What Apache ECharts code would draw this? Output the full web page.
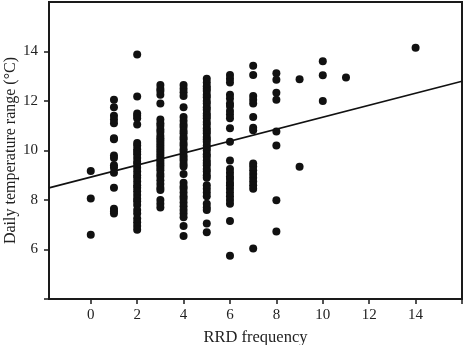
<!DOCTYPE html>
<html>
<head>
<meta charset="utf-8">
<script src="https://cdn.jsdelivr.net/npm/echarts@6/dist/echarts.min.js"></script>
<style>
  html, body { margin: 0; padding: 0; background: #fff; }
  #chart { width: 465px; height: 345px; }
</style>
</head>
<body>
<div id="chart"></div>
<script>
// RRD frequency -> daily temperature range values, read column by column
var col0 = [9.17, 8.06, 6.6];
var col1 = [12.05, 11.75, 11.4, 11.25, 11.1, 10.5, 10.45, 9.8, 9.7, 9.4, 9.3, 9.1, 8.5, 7.65, 7.55, 7.45];
var col2 = [13.88, 12.18, 11.5, 11.4, 11.3, 11.05, 10.3, 10.2, 10.05, 9.95, 9.85, 9.7, 9.55, 9.45, 9.3, 9.15,
  9.0, 8.9, 8.75, 8.6, 8.5, 8.35, 8.2, 8.05, 7.95, 7.8, 7.6, 7.45, 7.25, 7.1, 6.95, 6.8];
var col3 = [12.65, 12.5, 12.4, 12.25, 11.9, 11.25, 11.1, 11.0, 10.85, 10.75, 10.6, 10.5, 10.4, 10.3, 10.2, 10.1,
  10.0, 9.9, 9.8, 9.7, 9.6, 9.5, 9.4, 9.3, 9.2, 9.05, 8.95, 8.8, 8.65, 8.5, 8.4, 8.0, 7.85, 7.7];
var col4 = [12.65, 12.5, 12.35, 12.2, 11.75, 11.35, 11.2, 11.05, 10.95, 10.8, 10.7, 10.55, 10.45, 10.3, 10.2, 10.05,
  9.95, 9.8, 9.7, 9.6, 9.45, 9.35, 9.05, 8.7, 8.55, 8.45, 8.3, 8.15, 8.05, 7.9, 7.75, 7.6, 7.45, 7.3, 6.95, 6.55];
var col5 = [12.9, 12.75, 12.6, 12.5, 12.4, 12.25, 12.15, 12.0, 11.9, 11.75, 11.65, 11.5, 11.4, 11.3, 11.15, 11.05,
  10.9, 10.8, 10.7, 10.55, 10.45, 10.35, 10.2, 10.1, 10.0, 9.85, 9.75, 9.6, 9.5, 9.4, 9.25, 9.15, 9.0, 8.9,
  8.6, 8.45, 8.3, 8.15, 7.85, 7.7, 7.6, 7.05, 6.7];
var col6 = [13.05, 12.9, 12.75, 12.25, 12.1, 11.9, 11.8, 11.6, 11.45, 11.3, 10.9, 10.35, 9.6,
  9.25, 9.1, 8.95, 8.85, 8.7, 8.6, 8.45, 8.3, 8.15, 8.0, 7.85, 7.15, 5.75];
var col7 = [13.42, 13.05, 12.2, 12.05, 11.9, 11.35, 10.92, 10.82, 9.47, 9.35, 9.2, 9.05, 8.9, 8.75, 8.6, 8.45, 6.04];
var col8 = [13.12, 12.86, 12.33, 12.05, 10.77, 10.2, 7.99, 6.73];
var col9 = [12.88, 9.34];
var col10 = [13.61, 13.04, 12.0];
var col11 = [12.95];
var col14 = [14.15];

var freqs = [0, 1, 2, 3, 4, 5, 6, 7, 8, 9, 10, 11, 14];
var columns = [col0, col1, col2, col3, col4, col5, col6, col7, col8, col9, col10, col11, col14];

// fitted line end points
var fitX = [-1.8, 16];
var fitY = [8.49, 12.8];

var xTicks = [0, 2, 4, 6, 8, 10, 12, 14];
var yTicks = [6, 8, 10, 12, 14];

var points = [];
for (var i = 0; i < freqs.length; i++) {
  columns[i].forEach(function (v) { points.push([freqs[i], v]); });
}

var font = '"Liberation Serif", "DejaVu Serif", serif';
var chart = echarts.init(document.getElementById('chart'));
chart.setOption({
  animation: false,
  grid: {
    left: 49, right: 3, top: 2, bottom: 46,
    outerBoundsMode: 'none',
    show: true, borderColor: '#1a1a1a', borderWidth: 2, backgroundColor: '#fff'
  },
  xAxis: {
    type: 'value',
    min: -1.8,
    max: 16,
    name: 'RRD frequency',
    nameLocation: 'middle',
    nameGap: 30,
    nameMoveOverlap: false,
    nameTextStyle: { fontFamily: font, fontSize: 16.5, color: '#222' },
    axisLine: { show: true, onZero: false, lineStyle: { color: '#1a1a1a', width: 2 } },
    axisTick: { show: true, length: 5, customValues: xTicks.concat([16]), lineStyle: { color: '#1a1a1a', width: 1.5 } },
    axisLabel: { customValues: xTicks, fontFamily: font, fontSize: 15, color: '#222', margin: 9 },
    splitLine: { show: false }
  },
  yAxis: {
    type: 'value',
    min: 4,
    max: 16,
    name: 'Daily temperature range (°C)',
    nameLocation: 'middle',
    nameGap: 30,
    nameMoveOverlap: false,
    nameTextStyle: { fontFamily: font, fontSize: 16, color: '#222' },
    axisLine: { show: true, onZero: false, lineStyle: { color: '#1a1a1a', width: 2 } },
    axisTick: { show: true, length: 5, customValues: [4].concat(yTicks), lineStyle: { color: '#1a1a1a', width: 1.5 } },
    axisLabel: { customValues: yTicks, fontFamily: font, fontSize: 15, color: '#222', margin: 11 },
    splitLine: { show: false }
  },
  series: [{
    type: 'scatter',
    data: points,
    symbolSize: 8,
    itemStyle: { color: '#111', opacity: 1 }
  }, {
    type: 'line',
    data: fitX.map(function (x, k) { return [x, fitY[k]]; }),
    symbol: 'none',
    lineStyle: { color: '#111', width: 1.6 }
  }]
});
</script>
</body>
</html>
